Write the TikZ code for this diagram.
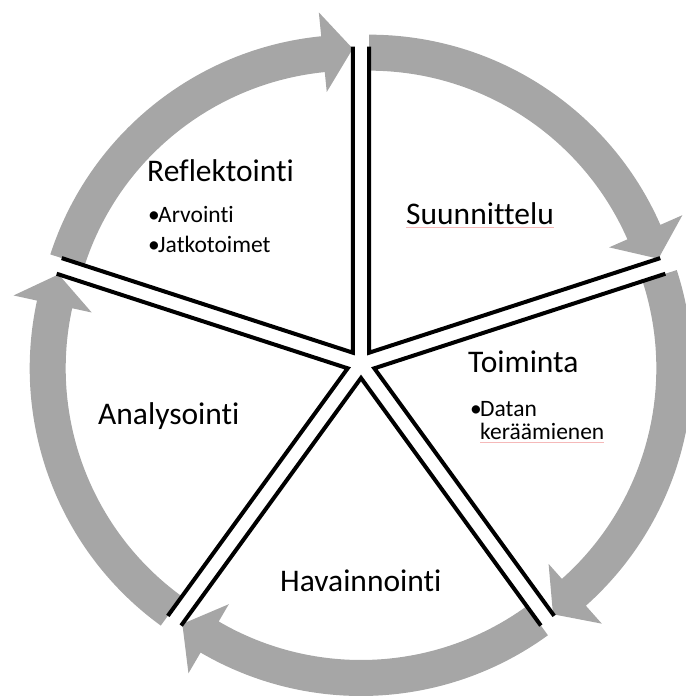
\documentclass[tikz,border=0pt]{standalone}
\usepackage{fontspec}
\setmainfont{Carlito}[Ligatures=NoCommon]
\usetikzlibrary{calc}
\definecolor{ringgray}{RGB}{166,166,166}
\definecolor{spellred}{RGB}{245,185,185}
\newcommand{\bul}{\makebox[10pt][l]{\textbullet}}

\begin{document}
\begin{tikzpicture}[x=1pt,y=1pt,
  spoke/.style={draw=black,line width=4pt,line join=miter},
  bigtext/.style={anchor=base west,inner sep=0pt,font=\fontsize{31.5}{38}\selectfont},
  smalltext/.style={anchor=base west,inner sep=0pt,font=\fontsize{23.5}{28}\selectfont}]
\useasboundingbox (0,0) rectangle (685,698);
\coordinate (c) at (361,334);
\foreach \b/\name in {54/suun,-18/toim,-90/hava,-162/anal,126/refl} {
  \coordinate (\name) at ($(c)+(\b:14)$);
  \fill[ringgray] ($(\name)+(\b+36:318)$) arc[start angle=\b+36,end angle=\b-30.3,radius=318]
    -- ($(\name)+(\b-30.3:342)$) -- ($(\name)+(\b-36:304)$) -- ($(\name)+(\b-30.3:262)$)
    -- ($(\name)+(\b-30.3:282)$) arc[start angle=\b-30.3,end angle=\b+36,radius=282] -- cycle;
}
\foreach \b/\name in {54/suun,-18/toim,-90/hava,-162/anal,126/refl}
  \draw[spoke] ($(\name)+(\b+36:306)$) -- (\name) -- ($(\name)+(\b-36:306)$);
\node[bigtext] (reflt) at (147,516) {Reflektointi};
\node[smalltext] (arvi) at (148,475) {\bul Arvointi};
\node[smalltext] (jatk) at (148,445) {\bul Jatkotoimet};
\node[bigtext] (suunt) at (406,473) {Suunnittelu};
\node[bigtext] (toimt) at (468,325) {Toiminta};
\node[smalltext] (data) at (470,281) {\bul Datan};
\node[smalltext] (kera) at (480,258) {keräämienen};
\node[bigtext] (analt) at (98,273) {Analysointi};
\node[bigtext] (havt) at (280,106) {Havainnointi};
\draw[spellred,line width=1pt] ($(suunt.base west)+(0,-2.5)$) -- ($(suunt.base east)+(0,-2.5)$);
\draw[spellred,line width=1pt] ($(kera.base west)+(0,-2.5)$) -- ($(kera.base east)+(0,-2.5)$);
\end{tikzpicture}
\end{document}
